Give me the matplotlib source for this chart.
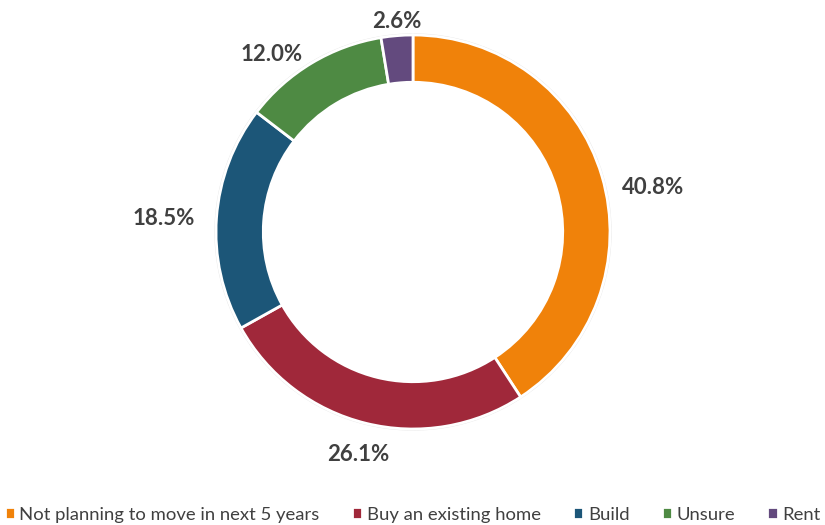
import numpy as np
import matplotlib.pyplot as plt
from matplotlib.patches import Circle

# 数据
categories = ['Not planning to move in next 5 years', 'Buy an existing home',
              'Build', 'Unsure', 'Rent']
shares = [40.8, 26.1, 18.5, 12.0, 2.6]
colors = ['#F0820A', '#A0283A', '#1C5678', '#4E8A43', '#634A7E']

# 标签位置：离圆心的距离（外半径 = 1）和相对扇区中线的角度偏移
label_r = [1.24, 1.156, 1.27, 1.16, 1.079]
label_dang = [-5.5, -0.1, 0.7, 7.2, -0.4]

plt.rcParams['font.family'] = ['Lato', 'DejaVu Sans']

W, H, DPI = 825, 525, 100
cx, cy, R = 413, 232, 197  # 像素位置

fig = plt.figure(figsize=(W / DPI, H / DPI), dpi=DPI, facecolor='white')
ax = fig.add_axes([0, 0, 1, 1])

wedges, _ = ax.pie(shares, colors=colors, startangle=90, counterclock=False,
                   radius=1.0,
                   wedgeprops=dict(width=0.24, edgecolor='white', linewidth=2))

# 浅灰外框
for r in (1.0, 0.76):
    ax.add_patch(Circle((0, 0), r + 0.004, fill=False, edgecolor='#e4e4e4',
                        linewidth=1.2, zorder=0))

for w, val, r, da in zip(wedges, shares, label_r, label_dang):
    ang = np.deg2rad((w.theta1 + w.theta2) / 2 + da)
    ax.text(r * np.cos(ang), r * np.sin(ang) - 0.01, f'{val:.1f}%',
            ha='center', va='center', fontsize=16, fontweight='bold',
            color='#404040')

ax.set_xlim(-cx / R, (W - cx) / R)
ax.set_ylim(-(H - cy) / R, cy / R)
ax.set_axis_off()

fig.legend(wedges, categories, loc='lower center', bbox_to_anchor=(0.5, -0.02),
           ncol=5, frameon=False, fontsize=13.3, handlelength=0.55,
           handleheight=0.55, handletextpad=0.25, columnspacing=1.75,
           labelcolor='#404040', borderaxespad=0.3)

fig.savefig('out.png', dpi=DPI, facecolor='white')
